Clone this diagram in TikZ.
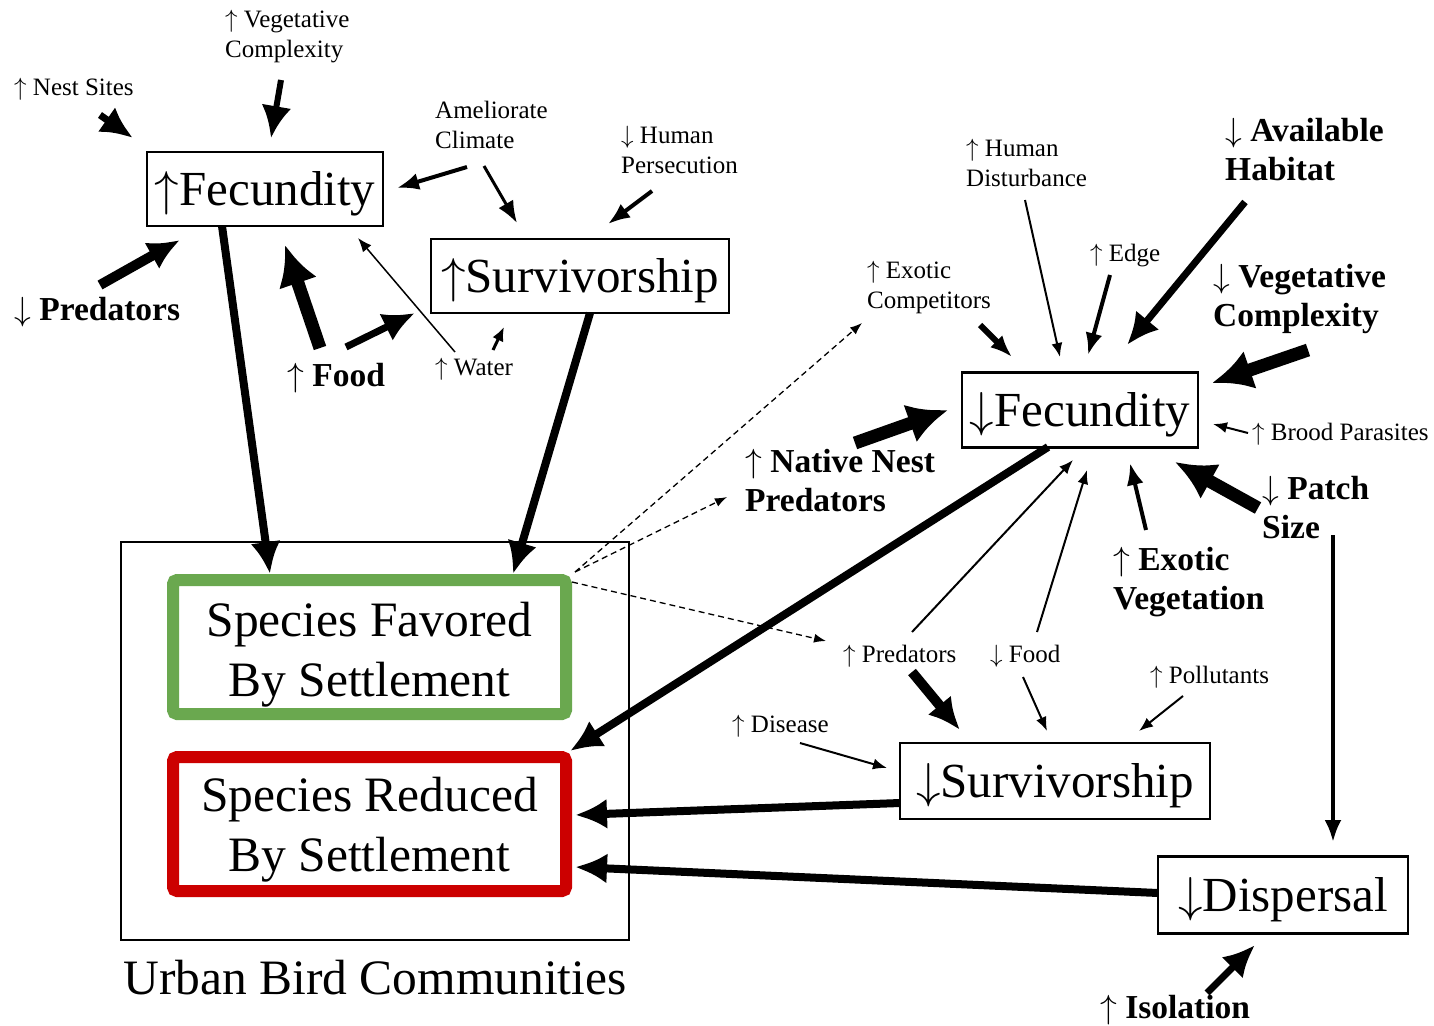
\RequirePackage{fix-cm}
\documentclass[tikz,border=0pt]{standalone}
\usepackage{fontspec}
\setmainfont{Liberation Serif}
\usetikzlibrary{arrows.meta}
\definecolor{favgreen}{RGB}{106,168,79}
\definecolor{redbox}{RGB}{204,0,0}
\newcommand{\ua}{$\uparrow$}
\newcommand{\da}{$\downarrow$}
\begin{document}
\begin{tikzpicture}[x=1pt,y=-1pt,
  box/.style={draw,line width=2.5pt,inner sep=0pt,text height=33pt,text depth=0pt,font=\fontsize{49}{59}\selectfont},
  spbox/.style={line width=12pt,rounded corners=4pt,minimum width=393pt,minimum height=134pt,inner sep=0pt},
  sptext/.style={align=center,inner sep=0pt,font=\fontsize{49.5}{60}\selectfont},
  lab/.style={inner sep=0pt,anchor=west,align=left,font=\fontsize{25}{30}\selectfont},
  blab/.style={inner sep=0pt,anchor=west,align=left,font=\fontsize{33.5}{39}\selectfont\bfseries},
  athin/.style={line width=2pt,-{Latex[length=14pt,width=11pt]}},
  amed/.style={line width=4pt,-{Latex[length=22pt,width=17pt]}},
  athk/.style={line width=8pt,-{Latex[length=32pt,width=30pt]}},
  avthk/.style={line width=13pt,-{Latex[length=40pt,width=40pt]}},
  adash/.style={line width=1.3pt,dash pattern=on 6pt off 4pt,-{Latex[length=12pt,width=9pt]}},
]
\fill[white] (0,0) rectangle (1434,1025);
\useasboundingbox (0,0) rectangle (1434,1025);

% ---------- boxes ----------
\node[box,minimum width=236pt,minimum height=74pt] (fecL) at (265,189) {\ua Fecundity};
\node[box,minimum width=298pt,minimum height=74pt] (survL) at (580,276) {\ua Survivorship};
\node[box,minimum width=236pt,minimum height=75pt] (fecR) at (1080,410) {\da Fecundity};
\node[box,minimum width=310pt,minimum height=76pt] (survR) at (1055,781) {\da Survivorship};
\node[box,minimum width=250pt,minimum height=77pt] (disp) at (1283,895) {\da Dispersal};
\node[draw,line width=2pt,minimum width=508pt,minimum height=398pt,inner sep=0pt] (urban) at (375,741) {};
\node[inner sep=0pt,font=\fontsize{49.5}{58}\selectfont] (urbanlab) at (375,978) {Urban Bird Communities};
\node[spbox,draw=favgreen] (fav) at (369.5,647) {};
\node[sptext] (favtxt) at (369.5,655) {Species Favored\\By Settlement};
\node[spbox,draw=redbox] (red) at (369.5,824) {};
\node[sptext] (redtxt) at (369.5,830) {Species Reduced\\By Settlement};

% ---------- labels ----------
\node[lab] (vegL) at (225,37) {\ua\ Vegetative\\Complexity};
\node[lab] (nest) at (14,89) {\ua\ Nest Sites};
\node[lab] (amel) at (435,125) {Ameliorate\\Climate};
\node[lab] (pers) at (621,150) {\da\ Human\\Persecution};
\node[blab] (predL) at (14,312) {\da\ Predators};
\node[blab] (food) at (287,378) {\ua\ Food};
\node[lab] (water) at (435,369) {\ua\ Water};
\node[lab] (humdist) at (966,163) {\ua\ Human\\Disturbance};
\node[blab] (avail) at (1225,150) {\da\ Available\\Habitat};
\node[lab] (edge) at (1090,256) {\ua\ Edge};
\node[lab] (exocomp) at (867,287) {\ua\ Exotic\\Competitors};
\node[blab] (vegR) at (1213,299) {\da\ Vegetative\\Complexity};
\node[lab] (brood) at (1252,434) {\ua\ Brood Parasites};
\node[blab] (patch) at (1262,508) {\da\ Patch\\Size};
\node[blab] (exoveg) at (1113,582) {\ua\ Exotic\\Vegetation};
\node[blab] (native) at (745,481) {\ua\ Native Nest\\Predators};
\node[lab] (predR) at (843,656) {\ua\ Predators};
\node[lab] (foodR) at (990,656) {\da\ Food};
\node[lab] (poll) at (1150,677) {\ua\ Pollutants};
\node[lab] (dis) at (732,726) {\ua\ Disease};
\node[blab] (iso) at (1100,1010) {\ua\ Isolation};

% ---------- connector end points ----------
\coordinate (nestS) at (100,115);   \coordinate (nestE) at (133,138);
\coordinate (vegLS) at (281,80);    \coordinate (vegLE) at (271,138);
\coordinate (amelS1) at (467,167);  \coordinate (amelE1) at (397,188);
\coordinate (amelS2) at (484,166);  \coordinate (amelE2) at (517,223);
\coordinate (persS) at (652,191);   \coordinate (persE) at (608,224);
\coordinate (predLS) at (100,285);  \coordinate (predLE) at (180,240);
\coordinate (foodS1) at (320,348);  \coordinate (foodE1) at (285,245);
\coordinate (foodS2) at (346,347);  \coordinate (foodE2) at (415,313);
\coordinate (waterS1) at (455,352); \coordinate (waterE1) at (358,238);
\coordinate (waterS2) at (493,350); \coordinate (waterE2) at (504,327);
\coordinate (fecLS) at (222,226);   \coordinate (favE1) at (270,574);
\coordinate (survLS) at (590,313);  \coordinate (favE2) at (513,574);
\coordinate (favD1) at (575,572);   \coordinate (dE1) at (862,323);
\coordinate (dE2) at (727,497);
\coordinate (favD3) at (572,582);   \coordinate (dE3) at (826,641);
\coordinate (humS) at (1025,200);   \coordinate (humE) at (1060,357);
\coordinate (edgeS) at (1110,275);  \coordinate (edgeE) at (1088,355);
\coordinate (availS) at (1245,202); \coordinate (availE) at (1127,345);
\coordinate (ecS) at (980,325);     \coordinate (ecE) at (1012,357);
\coordinate (vegRS) at (1308,350);  \coordinate (vegRE) at (1212,383);
\coordinate (broodS) at (1248,433); \coordinate (broodE) at (1213,424);
\coordinate (patchS) at (1258,508); \coordinate (patchE) at (1175,462);
\coordinate (evS) at (1146,530);    \coordinate (evE) at (1130,463);
\coordinate (nnS) at (855,443);     \coordinate (nnE) at (948,410);
\coordinate (prS1) at (912,632);    \coordinate (prE1) at (1073,460);
\coordinate (frS1) at (1037,632);   \coordinate (frE1) at (1087,470);
\coordinate (fecRS) at (1048,447);  \coordinate (redE1) at (570,751);
\coordinate (prS2) at (912,672);    \coordinate (prE2) at (960,730);
\coordinate (frS2) at (1023,677);   \coordinate (frE2) at (1047,731);
\coordinate (polS) at (1183,696);   \coordinate (polE) at (1139,731);
\coordinate (disS) at (800,743);    \coordinate (disE) at (887,768);
\coordinate (survRS) at (900,803);  \coordinate (redE2) at (575,815);
\coordinate (dispS) at (1158,893);  \coordinate (redE3) at (575,867);
\coordinate (patchS2) at (1333,535);\coordinate (dispE) at (1333,842);
\coordinate (isoS) at (1207,993);   \coordinate (isoE) at (1255,945);

% ---------- connectors: left ----------
\draw[athk,line width=7pt] (nestS) -- (nestE);
\draw[athk,line width=6pt] (vegLS) -- (vegLE);
\draw[amed] (amelS1) -- (amelE1);
\draw[amed,line width=3pt] (amelS2) -- (amelE2);
\draw[amed] (persS) -- (persE);
\draw[athk,line width=10pt] (predLS) -- (predLE);
\draw[avthk] (foodS1) -- (foodE1);
\draw[athk,line width=7pt] (foodS2) -- (foodE2);
\draw[athin,line width=1.5pt] (waterS1) -- (waterE1);
\draw[line width=3pt,-{Latex[length=14pt,width=12pt]}] (waterS2) -- (waterE2);
\draw[athk] (fecLS) -- (favE1);
\draw[athk] (survLS) -- (favE2);
\draw[adash] (favD1) -- (dE1);
\draw[adash] (favD1) -- (dE2);
\draw[adash] (favD3) -- (dE3);

% ---------- connectors: right ----------
\draw[athin] (humS) -- (humE);
\draw[amed] (edgeS) -- (edgeE);
\draw[athk,line width=7pt] (availS) -- (availE);
\draw[amed,line width=6pt] (ecS) -- (ecE);
\draw[avthk] (vegRS) -- (vegRE);
\draw[athin] (broodS) -- (broodE);
\draw[avthk] (patchS) -- (patchE);
\draw[amed] (evS) -- (evE);
\draw[avthk] (nnS) -- (nnE);
\draw[athin] (prS1) -- (prE1);
\draw[athin] (frS1) -- (frE1);
\draw[athk] (fecRS) -- (redE1);
\draw[athk,line width=10pt] (prS2) -- (prE2);
\draw[athin] (frS2) -- (frE2);
\draw[athin] (polS) -- (polE);
\draw[athin] (disS) -- (disE);
\draw[athk] (survRS) -- (redE2);
\draw[athk] (dispS) -- (redE3);
\draw[amed] (patchS2) -- (dispE);
\draw[athk,line width=7pt] (isoS) -- (isoE);
\end{tikzpicture}
\end{document}
